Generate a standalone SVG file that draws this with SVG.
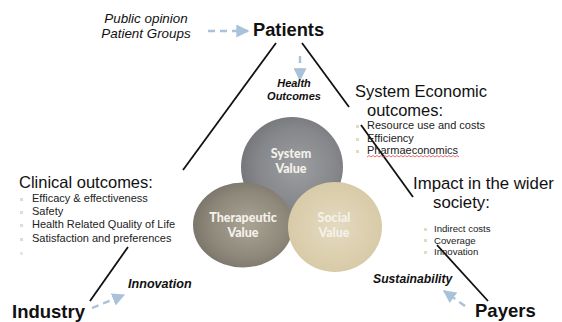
<svg xmlns="http://www.w3.org/2000/svg" width="562" height="322" viewBox="0 0 562 322">
<defs>
<style>
.h{font-family:"Liberation Sans",Arial,sans-serif;fill:#111}
.b{font-weight:bold}
.i{font-style:italic}
.bl{font-family:"Liberation Sans",Arial,sans-serif;fill:#222}
.cv{font-family:Lato,"Open Sans",sans-serif;font-weight:900;fill:#f4f1ea;font-size:12.5px;text-anchor:middle}
.ln{stroke:#111;stroke-width:1.8;fill:none}
.da{stroke:#a9c2da;stroke-width:2.4;fill:none;stroke-dasharray:7 5}
</style>
<marker id="ah" markerUnits="userSpaceOnUse" markerWidth="13" markerHeight="13" viewBox="0 0 10 10" refX="9" refY="5" orient="auto">
<path d="M0,0 L10,5 L0,10 z" fill="#a9c2da"/>
</marker>
<radialGradient id="gs" cx="0.55" cy="0.5" r="0.55">
<stop offset="0" stop-color="#9d9ea1"/>
<stop offset="0.7" stop-color="#86878a"/>
<stop offset="1" stop-color="#76777a"/>
</radialGradient>
<radialGradient id="gt" cx="0.55" cy="0.5" r="0.55">
<stop offset="0" stop-color="#aaa495"/>
<stop offset="0.7" stop-color="#8e887b"/>
<stop offset="1" stop-color="#7b766a"/>
</radialGradient>
<radialGradient id="gc" cx="0.5" cy="0.5" r="0.55">
<stop offset="0" stop-color="#e4dac0"/>
<stop offset="1" stop-color="#d6c9a5"/>
</radialGradient>
</defs>

<g id="connectors">
<path class="ln" d="M276,43 L183,170"/>
<path class="ln" d="M128,247 L90,301"/>
<path class="ln" d="M302,43 L349,107"/>
<path class="ln" d="M361,125 L413,197"/>
<path class="ln" d="M437,245 L488,301"/>
<path class="da" d="M208,31 L248,31" marker-end="url(#ah)"/>
<path class="da" d="M300,56 L300,80" marker-end="url(#ah)"/>
<path class="da" d="M92,308 L124,295" marker-end="url(#ah)"/>
<path class="da" d="M465,306 L444,291" marker-end="url(#ah)"/>
</g>

<g id="system-value">
<ellipse cx="292" cy="167" rx="51" ry="50" fill="url(#gs)"/>
<text class="cv" x="291" y="158">System</text>
<text class="cv" x="291" y="173">Value</text>
</g>
<g id="therapeutic-value">
<ellipse cx="243" cy="225" rx="50" ry="42.5" fill="url(#gt)"/>
<text class="cv" x="243" y="222">Therapeutic</text>
<text class="cv" x="243" y="237">Value</text>
</g>
<g id="social-value">
<ellipse cx="335" cy="227" rx="47" ry="45" fill="url(#gc)"/>
<text class="cv" x="334" y="222">Social</text>
<text class="cv" x="334" y="237">Value</text>
</g>

<g id="public-opinion">
<text class="h i" x="146" y="22.5" font-size="13.4" text-anchor="middle">Public opinion</text>
<text class="h i" x="146" y="38" font-size="13.4" text-anchor="middle">Patient Groups</text>
</g>

<g id="patients">
<text class="h b" x="253" y="36" font-size="18.3">Patients</text>
</g>

<g id="health-outcomes">
<text class="h b i" x="294" y="87" font-size="11" text-anchor="middle">Health</text>
<text class="h b i" x="294" y="100" font-size="11" text-anchor="middle">Outcomes</text>
</g>

<g id="system-economic">
<text class="h" x="355" y="97" font-size="16.5">System Economic</text>
<text class="h" x="367" y="115.5" font-size="16.5">outcomes:</text>
<rect x="356" y="125" width="3" height="3" fill="#e2dcc0"/>
<rect x="356" y="138" width="3" height="3" fill="#e2dcc0"/>
<rect x="356" y="150" width="3" height="3" fill="#e2dcc0"/>
<text class="bl" x="367" y="129" font-size="11">Resource use and costs</text>
<text class="bl" x="367" y="142" font-size="11">Efficiency</text>
<text class="bl" x="367" y="154" font-size="11">Pharmaeconomics</text>
<path d="M367,157 l2,-1.5 l2,1.5 l2,-1.5 l2,1.5 l2,-1.5 l2,1.5 l2,-1.5 l2,1.5 l2,-1.5 l2,1.5 l2,-1.5 l2,1.5 l2,-1.5 l2,1.5 l2,-1.5 l2,1.5 l2,-1.5 l2,1.5 l2,-1.5 l2,1.5 l2,-1.5 l2,1.5 l2,-1.5 l2,1.5 l2,-1.5 l2,1.5 l2,-1.5 l2,1.5 l2,-1.5 l2,1.5 l2,-1.5 l2,1.5 l2,-1.5 l2,1.5 l2,-1.5 l2,1.5 l2,-1.5 l2,1.5 l2,-1.5 l2,1.5 l2,-1.5 l2,1.5 l2,-1.5 l2,1.5 l2,-1.5 l2,1.5" stroke="#e04848" stroke-width="0.8" fill="none"/>
</g>

<g id="clinical-outcomes">
<text class="h" x="19" y="188" font-size="16.5">Clinical outcomes:</text>
<rect x="20" y="198" width="3" height="3" fill="#dcdcdc"/>
<rect x="20" y="211" width="3" height="3" fill="#dcdcdc"/>
<rect x="20" y="224" width="3" height="3" fill="#dcdcdc"/>
<rect x="20" y="238" width="3" height="3" fill="#dcdcdc"/>
<rect x="20" y="252" width="3" height="3" fill="#e6e6e6"/>
<text class="bl" x="32" y="202" font-size="11">Efficacy &amp; effectiveness</text>
<text class="bl" x="32" y="215" font-size="11">Safety</text>
<text class="bl" x="32" y="228" font-size="11">Health Related Quality of Life</text>
<text class="bl" x="32" y="242" font-size="11">Satisfaction and preferences</text>
</g>

<g id="impact-wider-society">
<text class="h" x="413" y="188.5" font-size="16.8">Impact in the wider</text>
<text class="h" x="433" y="208" font-size="16.8">society:</text>
<rect x="424" y="228" width="3" height="3" fill="#e2dcc0"/>
<rect x="424" y="239" width="3" height="3" fill="#e2dcc0"/>
<rect x="424" y="251" width="3" height="3" fill="#e2dcc0"/>
<text class="bl" x="434" y="232" font-size="9.6">Indirect costs</text>
<text class="bl" x="434" y="243.5" font-size="9.6">Coverage</text>
<text class="bl" x="434" y="255" font-size="9.6">Innovation</text>
</g>

<g id="innovation">
<text class="h b i" x="128" y="288" font-size="12.6">Innovation</text>
</g>
<g id="industry">
<text class="h b" x="12" y="318" font-size="18.5">Industry</text>
</g>
<g id="sustainability">
<text class="h b i" x="373" y="283" font-size="12.2">Sustainability</text>
</g>
<g id="payers">
<text class="h b" x="475" y="317" font-size="18.5">Payers</text>
</g>
</svg>
